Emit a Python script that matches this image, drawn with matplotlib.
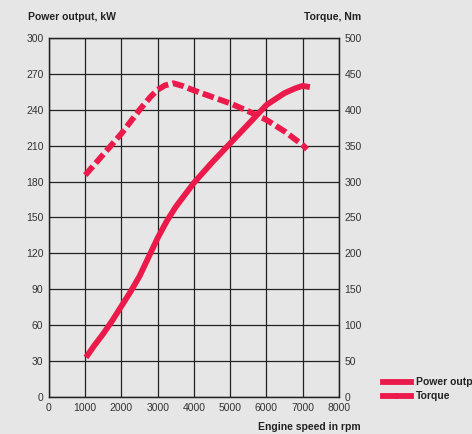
import matplotlib
matplotlib.use("Agg")
import matplotlib.pyplot as plt
from matplotlib.lines import Line2D

plt.rcParams['font.family'] = ['Liberation Sans', 'DejaVu Sans']

# Data
power_rpm = [1020, 1250, 1500, 1750, 2000, 2250, 2500, 2750, 3000, 3250, 3500, 3750, 4000, 4500, 5000, 5500, 6000, 6500, 6800, 7000, 7200]
power_kw = [33, 43, 53, 64, 76, 88, 101, 117, 133, 147, 159, 169, 179, 196, 212, 228, 244, 254, 258, 260, 259]
torque_rpm = [1000, 1500, 2000, 2500, 2800, 3000, 3200, 3430, 3700, 4000, 4500, 5000, 5500, 6000, 6500, 7000, 7120]
torque_nm = [309, 338, 367, 400, 418, 428, 434, 437, 433, 427, 418, 409, 398, 386, 370, 351, 345]

x_ticks = [0, 1000, 2000, 3000, 4000, 5000, 6000, 7000, 8000]
left_ticks = [0, 30, 60, 90, 120, 150, 180, 210, 240, 270, 300]
right_ticks = [0, 50, 100, 150, 200, 250, 300, 350, 400, 450, 500]

red = '#ec1a4b'
ink = '#222222'

fig = plt.figure(figsize=(4.72, 4.34), dpi=100)
fig.patch.set_facecolor('#e6e6e6')
ax = fig.add_axes([0.1038, 0.0853, 0.6142, 0.8271])
ax.set_facecolor('#e6e6e6')
ax2 = ax.twinx()

ax.set_xlim(0, 8000)
ax.set_ylim(0, 300)
ax2.set_ylim(0, 500)
ax.set_xticks(x_ticks)
ax.set_yticks(left_ticks)
ax2.set_yticks(right_ticks)
ax.grid(True, color=ink, linewidth=0.9)
ax.set_axisbelow(True)
for a in (ax, ax2):
    for s in a.spines.values():
        s.set_color(ink)
        s.set_linewidth(0.9)
    a.tick_params(length=0, labelsize=7.5, colors='#333333', pad=4)

ax.plot(power_rpm, power_kw, color=red, linewidth=4.2, solid_capstyle='butt', solid_joinstyle='round')
ax2.plot(torque_rpm, torque_nm, color=red, linewidth=4.2, linestyle=(0, (2.0, 0.75)),
         dash_capstyle='butt', dash_joinstyle='round')

fig.text(28/472, 1-17/434, 'Power output, kW', fontsize=7.5, fontweight='bold', color=ink, va='center', ha='left')
fig.text(361/472, 1-17/434, 'Torque, Nm', fontsize=7.5, fontweight='bold', color=ink, va='center', ha='right')
fig.text(361/472, 1-427/434, 'Engine speed in rpm', fontsize=7.5, fontweight='bold', color=ink, va='center', ha='right')

# legend
fig.add_artist(Line2D([383/472, 411/472], [1-382/434, 1-382/434], color=red, linewidth=4.2, transform=fig.transFigure))
fig.add_artist(Line2D([383/472, 395/472], [1-396/434, 1-396/434], color=red, linewidth=4.2, transform=fig.transFigure))
fig.add_artist(Line2D([398/472, 411/472], [1-396/434, 1-396/434], color=red, linewidth=4.2, transform=fig.transFigure))
fig.text(416/472, 1-382/434, 'Power output', fontsize=7.5, fontweight='bold', color=ink, va='center', ha='left')
fig.text(416/472, 1-396/434, 'Torque', fontsize=7.5, fontweight='bold', color=ink, va='center', ha='left')

fig.savefig('out.png', dpi=100, facecolor=fig.get_facecolor())
